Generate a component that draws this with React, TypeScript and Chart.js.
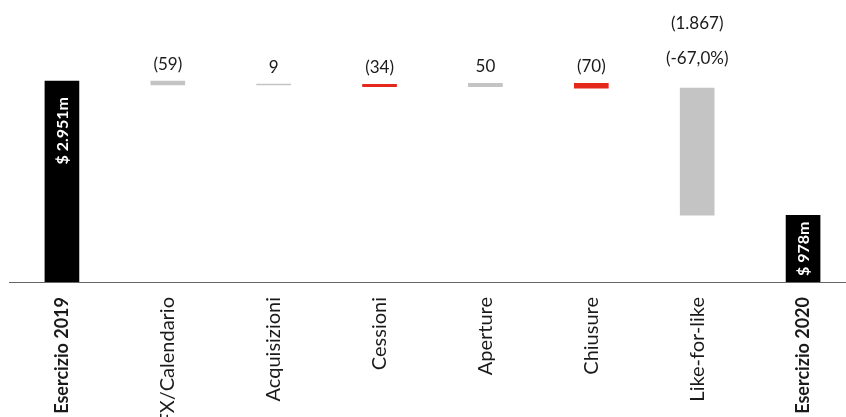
import React, { useEffect, useRef } from 'react';
import { Chart, registerables } from 'chart.js';

Chart.register(...registerables);

// Bridge from the 2019 to the 2020 result, in $ millions
const categories = [
  'Esercizio 2019',
  'FX/Calendario',
  'Acquisizioni',
  'Cessioni',
  'Aperture',
  'Chiusure',
  'Like-for-like',
  'Esercizio 2020',
];
const openingTotal = 2951;
const movements = [-59, 9, -34, 50, -70, -1867];
const closingTotal = 978;
const movementLabels: (string | string[])[] = ['(59)', '9', '(34)', '50', '(70)', ['(1.867)', '(-67,0%)']];
const totalLabels = ['$ 2.951m', '$ 978m'];
const barColors = ['#000000', '#c4c4c4', '#c4c4c4', '#e5281c', '#c4c4c4', '#e5281c', '#c4c4c4', '#000000'];

const FONT = 'Lato, "Noto Sans", sans-serif';
const WIDTH = 856;
const HEIGHT = 417;
const AXIS_Y = 282;

// Floating [start, end] ranges for the waterfall
function buildRanges(): [number, number][] {
  const ranges: [number, number][] = [[0, openingTotal]];
  let level = openingTotal;
  for (const m of movements) {
    ranges.push([level, level + m]);
    level += m;
  }
  ranges.push([0, closingTotal]);
  return ranges;
}

const barLabelsPlugin = {
  id: 'barLabels',
  afterDatasetsDraw(chart: any) {
    const { ctx } = chart;
    const meta = chart.getDatasetMeta(0);
    const last = meta.data.length - 1;
    meta.data.forEach((bar: any, i: number) => {
      const top = Math.min(bar.y, bar.base);
      const bottom = Math.max(bar.y, bar.base);
      ctx.save();
      if (i === 0 || i === last) {
        // Total value written vertically inside the black bar
        const text = totalLabels[i === 0 ? 0 : 1];
        ctx.font = `bold 16px ${FONT}`;
        ctx.fillStyle = '#ffffff';
        const tw = ctx.measureText(text).width;
        const inset = Math.min(16, (bottom - top - tw) / 2);
        ctx.translate(bar.x, top + inset);
        ctx.rotate(-Math.PI / 2);
        ctx.textAlign = 'right';
        ctx.textBaseline = 'middle';
        ctx.fillText(text, 0, 1);
      } else {
        const label = movementLabels[i - 1];
        const lines = Array.isArray(label) ? label : [label];
        ctx.font = `17px ${FONT}`;
        ctx.fillStyle = '#1a1a1a';
        ctx.textAlign = 'center';
        ctx.textBaseline = 'alphabetic';
        const offset = lines.length > 1 ? 24 : 11;
        lines
          .slice()
          .reverse()
          .forEach((line, k) => {
            ctx.fillText(line, bar.x, top - offset - k * 35);
          });
      }
      ctx.restore();
    });
  },
};

export default function App() {
  const canvasRef = useRef<HTMLCanvasElement | null>(null);

  useEffect(() => {
    const canvas = canvasRef.current;
    if (!canvas) return;
    const chart = new Chart(canvas, {
      type: 'bar',
      data: {
        labels: categories,
        datasets: [
          {
            data: buildRanges() as any,
            backgroundColor: barColors,
            borderWidth: 0,
            borderSkipped: false,
            barThickness: 34,
            minBarLength: 1,
          },
        ],
      },
      options: {
        responsive: false,
        animation: false,
        events: [],
        layout: { padding: { left: 9, right: 0, top: 0, bottom: 0 } },
        plugins: {
          legend: { display: false },
          tooltip: { enabled: false },
        },
        scales: {
          x: {
            grid: { display: false, drawTicks: false },
            border: { display: true, color: '#666666', width: 1 },
            afterFit: (scale: any) => {
              scale.height = HEIGHT - AXIS_Y;
            },
            ticks: {
              minRotation: 90,
              maxRotation: 90,
              padding: 15,
              color: '#1a1a1a',
              font: (c: any) => {
                const isTotal = c.index === 0 || c.index === categories.length - 1;
                return { family: FONT, size: isTotal ? 18 : 20, weight: isTotal ? 'bold' : 'normal' };
              },
            },
          },
          y: {
            display: false,
            min: 0,
            max: 4140,
          },
        },
      },
      plugins: [barLabelsPlugin],
    });
    return () => chart.destroy();
  }, []);

  return (
    <div style={{ position: 'fixed', left: 0, top: 0, width: WIDTH, height: HEIGHT, background: '#ffffff' }}>
      <canvas ref={canvasRef} width={WIDTH} height={HEIGHT} />
    </div>
  );
}
